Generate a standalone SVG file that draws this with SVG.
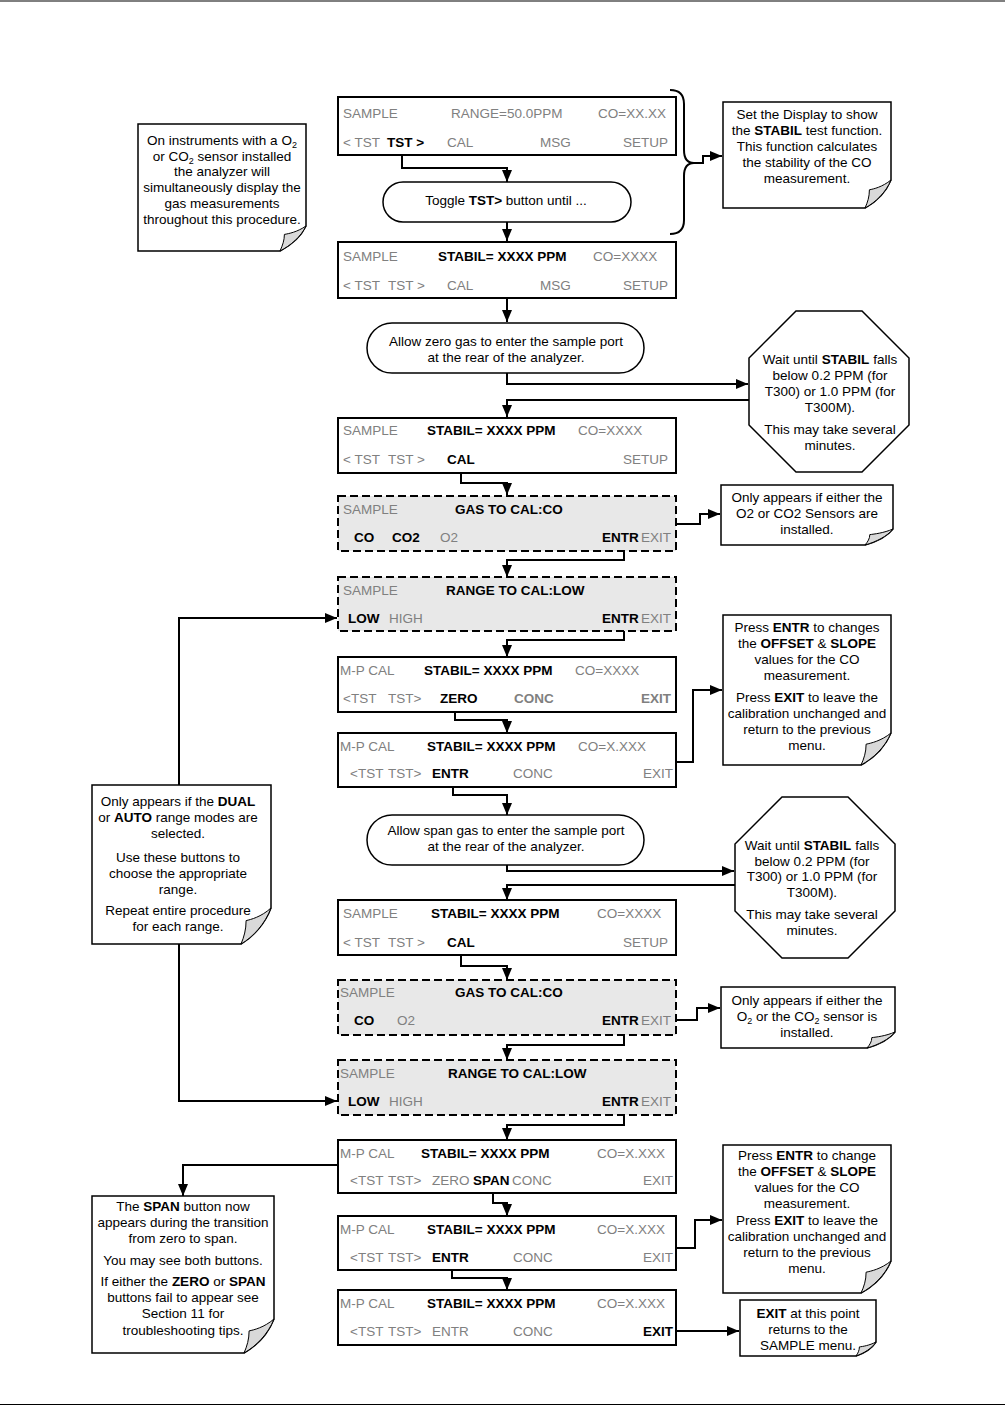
<svg xmlns="http://www.w3.org/2000/svg" width="1005" height="1418" viewBox="0 0 1005 1418">
<defs>
<style>
text{font-family:"Liberation Sans",Arial,sans-serif;font-size:13.5px;fill:#000}
.g{fill:#808080}
.b{font-weight:bold}
.gb{font-weight:bold;fill:#808080}
.m{text-anchor:middle}
.e{text-anchor:end}
.box{fill:#fff;stroke:#000;stroke-width:2}
.dbox{fill:#e8e8e8;stroke:#000;stroke-width:2;stroke-dasharray:8 4}
.note{fill:#fff;stroke:#000;stroke-width:1.5}
.flap{fill:#d9d9d9;stroke:#000;stroke-width:1}
.pill{fill:#fff;stroke:#000;stroke-width:1.5}
.c{fill:none;stroke:#000;stroke-width:2}
.ca{fill:none;stroke:#000;stroke-width:2;marker-end:url(#ah)}
.sub{font-size:9px}
</style>
<marker id="ah" markerUnits="userSpaceOnUse" markerWidth="13" markerHeight="11" refX="12" refY="5" orient="auto" viewBox="0 0 13 11">
<path d="M0,0 L12,5 L0,10 Z" fill="#000"/>
</marker>
</defs>
<rect x="0" y="0" width="1005" height="1418" fill="#fff"/>
<line x1="0" y1="1" x2="1005" y2="1" stroke="#000" stroke-width="1"/>
<line x1="0" y1="1404.5" x2="1005" y2="1404.5" stroke="#000" stroke-width="1"/>

<g id="connectors">
<path class="c" d="M670 90 Q684 90 684 104 V150 Q684 163 694 163 Q684 163 684 176 V220 Q684 234 670 234" stroke-width="1.5"/>
<path class="ca" d="M694 163 H703 V156 H722"/>
<path class="ca" d="M402 155 V168 H507 V182"/>
<path class="ca" d="M507 222 V241"/>
<path class="ca" d="M507 298 V322"/>
<path class="ca" d="M507 373 V384 H748"/>
<path class="ca" d="M749 400 H507 V417"/>
<path class="ca" d="M461 473 V483 H507 V495"/>
<path class="ca" d="M676 524 H700 V514 H720"/>
<path class="ca" d="M624 550 V560 H507 V577"/>
<path class="ca" d="M179 785 V618 H337"/>
<path class="ca" d="M624 630 V640 H507 V657"/>
<path class="ca" d="M455 712 V720 H507 V733"/>
<path class="ca" d="M676 762 H693 V690 H722"/>
<path class="ca" d="M453 787 V795 H507 V815"/>
<path class="ca" d="M507 865 V871 H734"/>
<path class="ca" d="M735 885 H507 V900"/>
<path class="ca" d="M461 955 V966 H507 V980"/>
<path class="ca" d="M676 1020 H697 V1008 H720"/>
<path class="ca" d="M624 1035 V1045 H507 V1060"/>
<path class="ca" d="M179 944 V1101 H337"/>
<path class="ca" d="M624 1115 V1125 H507 V1140"/>
<path class="ca" d="M338 1165 H183 V1196"/>
<path class="ca" d="M493 1193 V1203 H507 V1216"/>
<path class="ca" d="M452 1270 V1278 H507 V1290"/>
<path class="ca" d="M676 1248 H695 V1220 H722"/>
<path class="ca" d="M676 1331 H739"/>
</g>

<g id="b1">
<rect class="box" x="338" y="97" width="338" height="58"/>
<text class="g" x="343" y="118">SAMPLE</text>
<text class="g" x="451" y="118">RANGE=50.0PPM</text>
<text class="g" x="598" y="118">CO=XX.XX</text>
<text class="g" x="343" y="147">&lt; TST</text>
<text class="b" x="387" y="147">TST &gt;</text>
<text class="g" x="447" y="147">CAL</text>
<text class="g" x="540" y="147">MSG</text>
<text class="g e" x="668" y="147">SETUP</text>
</g>

<g id="p1">
<rect class="pill" x="383" y="182" width="248" height="40" rx="20"/>
<text class="m" x="506" y="205">Toggle <tspan class="b">TST&gt;</tspan> button until ...</text>
</g>

<g id="b2">
<rect class="box" x="338" y="242" width="338" height="56"/>
<text class="g" x="343" y="261">SAMPLE</text>
<text class="b" x="438" y="261">STABIL= XXXX PPM</text>
<text class="g" x="593" y="261">CO=XXXX</text>
<text class="g" x="343" y="290">&lt; TST</text>
<text class="g" x="388" y="290">TST &gt;</text>
<text class="g" x="447" y="290">CAL</text>
<text class="g" x="540" y="290">MSG</text>
<text class="g e" x="668" y="290">SETUP</text>
</g>

<g id="p2">
<rect class="pill" x="367" y="323" width="277" height="50" rx="25"/>
<text class="m" x="506" y="346">Allow zero gas to enter the sample port</text>
<text class="m" x="506" y="362">at the rear of the analyzer.</text>
</g>

<g id="b3">
<rect class="box" x="338" y="418" width="338" height="55"/>
<text class="g" x="343" y="435">SAMPLE</text>
<text class="b" x="427" y="435">STABIL= XXXX PPM</text>
<text class="g" x="578" y="435">CO=XXXX</text>
<text class="g" x="343" y="464">&lt; TST</text>
<text class="g" x="388" y="464">TST &gt;</text>
<text class="b" x="447" y="464">CAL</text>
<text class="g e" x="668" y="464">SETUP</text>
</g>

<g id="b4">
<rect class="dbox" x="338" y="496" width="338" height="55"/>
<text class="g" x="343" y="514">SAMPLE</text>
<text class="b" x="455" y="514">GAS TO CAL:CO</text>
<text class="b" x="354" y="542">CO</text>
<text class="b" x="392" y="542">CO2</text>
<text class="g" x="440" y="542">O2</text>
<text class="b" x="602" y="542">ENTR</text>
<text class="g" x="641" y="542">EXIT</text>
</g>

<g id="b5">
<rect class="dbox" x="338" y="577" width="338" height="54"/>
<text class="g" x="343" y="595">SAMPLE</text>
<text class="b" x="446" y="595">RANGE TO CAL:LOW</text>
<text class="b" x="348" y="623">LOW</text>
<text class="g" x="389" y="623">HIGH</text>
<text class="b" x="602" y="623">ENTR</text>
<text class="g" x="641" y="623">EXIT</text>
</g>

<g id="b6">
<rect class="box" x="338" y="657" width="338" height="55"/>
<text class="g" x="340" y="675">M-P CAL</text>
<text class="b" x="424" y="675">STABIL= XXXX PPM</text>
<text class="g" x="575" y="675">CO=XXXX</text>
<text class="g" x="343" y="703">&lt;TST</text>
<text class="g" x="388" y="703">TST&gt;</text>
<text class="b" x="440" y="703">ZERO</text>
<text class="gb" x="514" y="703">CONC</text>
<text class="gb e" x="671" y="703">EXIT</text>
</g>

<g id="b7">
<rect class="box" x="338" y="733" width="338" height="54"/>
<text class="g" x="340" y="751">M-P CAL</text>
<text class="b" x="427" y="751">STABIL= XXXX PPM</text>
<text class="g" x="578" y="751">CO=X.XXX</text>
<text class="g" x="350" y="778">&lt;TST</text>
<text class="g" x="388" y="778">TST&gt;</text>
<text class="b" x="432" y="778">ENTR</text>
<text class="g" x="513" y="778">CONC</text>
<text class="g e" x="673" y="778">EXIT</text>
</g>

<g id="p3">
<rect class="pill" x="367" y="815" width="277" height="50" rx="25"/>
<text class="m" x="506" y="835">Allow span gas to enter the sample port</text>
<text class="m" x="506" y="851">at the rear of the analyzer.</text>
</g>

<g id="b8">
<rect class="box" x="338" y="900" width="338" height="55"/>
<text class="g" x="343" y="918">SAMPLE</text>
<text class="b" x="431" y="918">STABIL= XXXX PPM</text>
<text class="g" x="597" y="918">CO=XXXX</text>
<text class="g" x="343" y="947">&lt; TST</text>
<text class="g" x="388" y="947">TST &gt;</text>
<text class="b" x="447" y="947">CAL</text>
<text class="g e" x="668" y="947">SETUP</text>
</g>

<g id="b9">
<rect class="dbox" x="338" y="980" width="338" height="55"/>
<text class="g" x="340" y="997">SAMPLE</text>
<text class="b" x="455" y="997">GAS TO CAL:CO</text>
<text class="b" x="354" y="1025">CO</text>
<text class="g" x="397" y="1025">O2</text>
<text class="b" x="602" y="1025">ENTR</text>
<text class="g" x="641" y="1025">EXIT</text>
</g>

<g id="b10">
<rect class="dbox" x="338" y="1060" width="338" height="55"/>
<text class="g" x="340" y="1078">SAMPLE</text>
<text class="b" x="448" y="1078">RANGE TO CAL:LOW</text>
<text class="b" x="348" y="1106">LOW</text>
<text class="g" x="389" y="1106">HIGH</text>
<text class="b" x="602" y="1106">ENTR</text>
<text class="g" x="641" y="1106">EXIT</text>
</g>

<g id="b11">
<rect class="box" x="338" y="1140" width="338" height="53"/>
<text class="g" x="340" y="1158">M-P CAL</text>
<text class="b" x="421" y="1158">STABIL= XXXX PPM</text>
<text class="g" x="597" y="1158">CO=X.XXX</text>
<text class="g" x="350" y="1185">&lt;TST</text>
<text class="g" x="388" y="1185">TST&gt;</text>
<text class="g" x="432" y="1185">ZERO</text>
<text class="b" x="473" y="1185">SPAN</text>
<text class="g" x="512" y="1185">CONC</text>
<text class="g e" x="673" y="1185">EXIT</text>
</g>

<g id="b12">
<rect class="box" x="338" y="1216" width="338" height="54"/>
<text class="g" x="340" y="1234">M-P CAL</text>
<text class="b" x="427" y="1234">STABIL= XXXX PPM</text>
<text class="g" x="597" y="1234">CO=X.XXX</text>
<text class="g" x="350" y="1262">&lt;TST</text>
<text class="g" x="388" y="1262">TST&gt;</text>
<text class="b" x="432" y="1262">ENTR</text>
<text class="g" x="513" y="1262">CONC</text>
<text class="g e" x="673" y="1262">EXIT</text>
</g>

<g id="b13">
<rect class="box" x="338" y="1290" width="338" height="55"/>
<text class="g" x="340" y="1308">M-P CAL</text>
<text class="b" x="427" y="1308">STABIL= XXXX PPM</text>
<text class="g" x="597" y="1308">CO=X.XXX</text>
<text class="g" x="350" y="1336">&lt;TST</text>
<text class="g" x="388" y="1336">TST&gt;</text>
<text class="g" x="432" y="1336">ENTR</text>
<text class="g" x="513" y="1336">CONC</text>
<text class="b e" x="673" y="1336">EXIT</text>
</g>

<g id="n1">
<path class="note" d="M138 124 H306 V226 C300.8 237 290.4 245.6 280 251 H138 Z"/>
<path class="flap" d="M306 226 C297.4 232 288.6 233.7 284.4 234.4 C284.4 240.4 282.6 245.2 280 251 C290.4 245.6 300.8 237 306 226 Z"/>
<text class="m" x="222" y="145">On instruments with a O<tspan class="sub" dy="3">2</tspan></text>
<text class="m" x="222" y="161">or CO<tspan class="sub" dy="3">2</tspan><tspan dy="-3"> sensor installed</tspan></text>
<text class="m" x="222" y="176">the analyzer will</text>
<text class="m" x="222" y="192">simultaneously display the</text>
<text class="m" x="222" y="208">gas measurements</text>
<text class="m" x="222" y="224">throughout this procedure.</text>
</g>

<g id="n2">
<path class="note" d="M723 102 H891 V180 C885.8 192.6 875.4 202.4 865 208 H723 Z"/>
<path class="flap" d="M891 180 C882.4 187 873.6 189 869.4 189.8 C869.4 196.8 867.6 202.4 865 208 C875.4 202.4 885.8 192.6 891 180 Z"/>
<text class="m" x="807" y="119">Set the Display to show</text>
<text class="m" x="807" y="135">the <tspan class="b">STABIL</tspan> test function.</text>
<text class="m" x="807" y="151">This function calculates</text>
<text class="m" x="807" y="167">the stability of the CO</text>
<text class="m" x="807" y="183">measurement.</text>
</g>

<g id="o1">
<polygon points="796,311 862,311 909,358 909,425 862,472 796,472 749,425 749,358" fill="#fff" stroke="#000" stroke-width="1.5"/>
<text class="m" x="830" y="364">Wait until <tspan class="b">STABIL</tspan> falls</text>
<text class="m" x="830" y="380">below 0.2 PPM (for</text>
<text class="m" x="830" y="396">T300) or 1.0 PPM (for</text>
<text class="m" x="830" y="412">T300M).</text>
<text class="m" x="830" y="434">This may take several</text>
<text class="m" x="830" y="450">minutes.</text>
</g>

<g id="n3">
<path class="note" d="M721 485 H893 V529 C887.4 536.2 876.2 541.8 865 545 H721 Z"/>
<path class="flap" d="M893 529 C883.8 533 874.2 534.1 869.8 534.6 C869.8 538.6 867.8 541.8 865 545 C876.2 541.8 887.4 536.2 893 529 Z"/>
<text class="m" x="807" y="502">Only appears if either the</text>
<text class="m" x="807" y="518">O2 or CO2 Sensors are</text>
<text class="m" x="807" y="534">installed.</text>
</g>

<g id="n4">
<path class="note" d="M723 615 H891 V733 C885 747.4 873 758.6 861 765 H723 Z"/>
<path class="flap" d="M891 733 C881.1 741 870.9 743.2 866.1 744.2 C866.1 752.2 864 758.6 861 765 C873 758.6 885 747.4 891 733 Z"/>
<text class="m" x="807" y="632">Press <tspan class="b">ENTR</tspan> to changes</text>
<text class="m" x="807" y="648">the <tspan class="b">OFFSET</tspan> &amp; <tspan class="b">SLOPE</tspan></text>
<text class="m" x="807" y="664">values for the CO</text>
<text class="m" x="807" y="680">measurement.</text>
<text class="m" x="807" y="702">Press <tspan class="b">EXIT</tspan> to leave the</text>
<text class="m" x="807" y="718">calibration unchanged and</text>
<text class="m" x="807" y="734">return to the previous</text>
<text class="m" x="807" y="750">menu.</text>
</g>

<g id="n8">
<path class="note" d="M92 785 H271 V908 C265 924 253 937 241 944 H92 Z"/>
<path class="flap" d="M271 908 C261.1 917 250.9 919.5 246.1 920.6 C246.1 929.6 244 937 241 944 C253 937 265 924 271 908 Z"/>
<text class="m" x="178" y="806">Only appears if the <tspan class="b">DUAL</tspan></text>
<text class="m" x="178" y="822">or <tspan class="b">AUTO</tspan> range modes are</text>
<text class="m" x="178" y="838">selected.</text>
<text class="m" x="178" y="862">Use these buttons to</text>
<text class="m" x="178" y="878">choose the appropriate</text>
<text class="m" x="178" y="894">range.</text>
<text class="m" x="178" y="915">Repeat entire procedure</text>
<text class="m" x="178" y="931">for each range.</text>
</g>

<g id="o2">
<polygon points="782,797 848,797 895,844 895,911 848,958 782,958 735,911 735,844" fill="#fff" stroke="#000" stroke-width="1.5"/>
<text class="m" x="812" y="850">Wait until <tspan class="b">STABIL</tspan> falls</text>
<text class="m" x="812" y="866">below 0.2 PPM (for</text>
<text class="m" x="812" y="881">T300) or 1.0 PPM (for</text>
<text class="m" x="812" y="897">T300M).</text>
<text class="m" x="812" y="919">This may take several</text>
<text class="m" x="812" y="935">minutes.</text>
</g>

<g id="n5">
<path class="note" d="M721 987 H895 V1032 C889.4 1039.2 878.2 1044.8 867 1048 H721 Z"/>
<path class="flap" d="M895 1032 C885.8 1036 876.2 1037.1 871.8 1037.6 C871.8 1041.6 869.8 1044.8 867 1048 C878.2 1044.8 889.4 1039.2 895 1032 Z"/>
<text class="m" x="807" y="1005">Only appears if either the</text>
<text class="m" x="807" y="1021">O<tspan class="sub" dy="3">2</tspan><tspan dy="-3"> or the CO</tspan><tspan class="sub" dy="3">2</tspan><tspan dy="-3"> sensor is</tspan></text>
<text class="m" x="807" y="1037">installed.</text>
</g>

<g id="n9">
<path class="note" d="M92 1196 H274 V1319 C268 1334.3 256 1346.2 244 1353 H92 Z"/>
<path class="flap" d="M274 1319 C264.1 1327.5 253.9 1329.9 249.1 1330.9 C249.1 1339.4 247 1346.2 244 1353 C256 1346.2 268 1334.3 274 1319 Z"/>
<text class="m" x="183" y="1211">The <tspan class="b">SPAN</tspan> button now</text>
<text class="m" x="183" y="1227">appears during the transition</text>
<text class="m" x="183" y="1243">from zero to span.</text>
<text class="m" x="183" y="1265">You may see both buttons.</text>
<text class="m" x="183" y="1286">If either the <tspan class="b">ZERO</tspan> or <tspan class="b">SPAN</tspan></text>
<text class="m" x="183" y="1302">buttons fail to appear see</text>
<text class="m" x="183" y="1318">Section 11 for</text>
<text class="m" x="183" y="1335">troubleshooting tips.</text>
</g>

<g id="n6">
<path class="note" d="M723 1145 H891 V1261 C885 1275.4 873 1286.6 861 1293 H723 Z"/>
<path class="flap" d="M891 1261 C881.1 1269 870.9 1271.2 866.1 1272.2 C866.1 1280.2 864 1286.6 861 1293 C873 1286.6 885 1275.4 891 1261 Z"/>
<text class="m" x="807" y="1160">Press <tspan class="b">ENTR</tspan> to change</text>
<text class="m" x="807" y="1176">the <tspan class="b">OFFSET</tspan> &amp; <tspan class="b">SLOPE</tspan></text>
<text class="m" x="807" y="1192">values for the CO</text>
<text class="m" x="807" y="1208">measurement.</text>
<text class="m" x="807" y="1225">Press <tspan class="b">EXIT</tspan> to leave the</text>
<text class="m" x="807" y="1241">calibration unchanged and</text>
<text class="m" x="807" y="1257">return to the previous</text>
<text class="m" x="807" y="1273">menu.</text>
</g>

<g id="n7">
<path class="note" d="M740 1300 H876 V1342 C872 1348.3 864 1353.2 856 1356 H740 Z"/>
<path class="flap" d="M876 1342 C869.4 1345.5 862.6 1346.5 859.4 1346.9 C859.4 1350.4 858 1353.2 856 1356 C864 1353.2 872 1348.3 876 1342 Z"/>
<text class="m" x="808" y="1318"><tspan class="b">EXIT</tspan> at this point</text>
<text class="m" x="808" y="1334">returns to the</text>
<text class="m" x="808" y="1350">SAMPLE menu.</text>
</g>
</svg>
